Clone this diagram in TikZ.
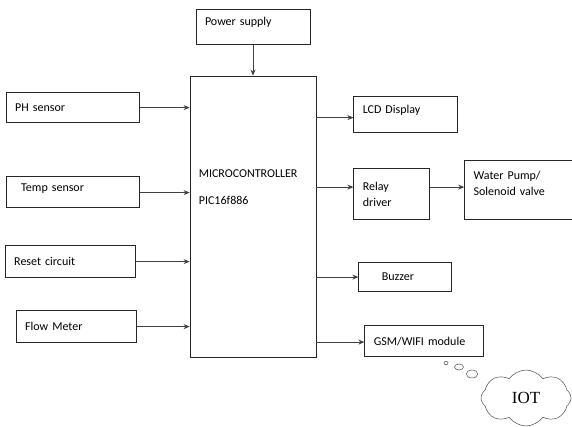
\documentclass[tikz,border=0pt]{standalone}
\usepackage{fontspec}
\setmainfont{Carlito}
\newfontfamily\iotfont{Liberation Serif}
\usepackage{tikz}
\usetikzlibrary{shapes.geometric, shapes.symbols, arrows.meta, positioning}
\tikzstyle{block} = [rectangle, draw=black!85, line width=0.8pt, inner xsep=9pt, inner ysep=2pt, align=left, font=\fontsize{12}{16}\selectfont]
\tikzstyle{arrow} = [line width=0.8pt, draw=black!75, ->, >={Stealth[length=6pt,width=5pt]}]
\tikzstyle{bubble} = [ellipse, draw=black!70, line width=0.5pt, inner sep=0pt]

\begin{document}
\begin{tikzpicture}[x=1pt, y=-1pt]
    \useasboundingbox (0,0) rectangle (572,426);
    \node (mcu) [block, minimum width=126pt, minimum height=281pt] at (253,216.5) {};
    \node (mcu_text) [below right=94pt and 9pt of mcu.north west, inner sep=0pt, align=left, font=\fontsize{12}{16}\selectfont] {MICROCONTROLLER\\[11pt] PIC16f886};
    \node (power) [block, above=31pt of mcu.north, text width=96pt, minimum height=35pt, text depth=10pt] {Power supply};
    \node (ph) [block, left=50pt of mcu.north west, yshift=-32pt, text width=115pt, minimum height=30pt] {PH sensor};
    \node (temp) [block, left=50pt of mcu.north west, yshift=-116pt, text width=115pt, minimum height=31pt, text depth=7pt] {\hspace{6pt}Temp sensor};
    \node (reset) [block, left=54pt of mcu.north west, yshift=-186pt, text width=112pt, minimum height=32pt] {Reset circuit};
    \node (flow) [block, left=53pt of mcu.north west, yshift=-251pt, text width=102pt, minimum height=32pt] {Flow Meter};
    \node (lcd) [block, right=37pt of mcu.north east, yshift=-39pt, text width=86pt, minimum height=36pt, text depth=10pt] {LCD Display};
    \node (relay) [block, right=37pt of mcu.north east, yshift=-118.5pt, text width=58pt, minimum height=51pt] {Relay\\ driver};
    \node (pump) [block, right=34pt of relay, yshift=4pt, text width=90pt, minimum height=59pt] {Water Pump/\\ Solenoid valve\\[-2pt]\mbox{}};
    \node (buzzer) [block, right=42pt of mcu.north east, yshift=-201.5pt, text width=75pt, minimum height=29pt] {\hspace{14pt}Buzzer};
    \node (gsm) [block, right=48pt of mcu.north east, yshift=-265.5pt, text width=101pt, minimum height=31pt] {GSM/WIFI module};
    \node (bubble_a) [bubble, minimum width=4pt, minimum height=3.5pt] at (446,363) {};
    \node (bubble_b) [bubble, minimum width=9pt, minimum height=6pt] at (459,367) {};
    \node (bubble_c) [bubble, minimum width=11.5pt, minimum height=8pt] at (472,374) {};
    \node (iot) [cloud, cloud puffs=8, cloud puff arc=110, aspect=1.7, draw=black!70, line width=0.5pt, minimum width=90pt, minimum height=56pt, font=\iotfont\fontsize{17}{17}\selectfont] at (526,398) {IOT};
    \draw [arrow] (power) -- (mcu);
    \draw [arrow] (ph.east) -- (ph.east -| mcu.west);
    \draw [arrow] ([yshift=-1pt]temp.east) -- ([yshift=-1pt]temp.east -| mcu.west);
    \draw [arrow] (reset.east) -- (reset.east -| mcu.west);
    \draw [arrow] (flow.east) -- (flow.east -| mcu.west);
    \draw [arrow] ([yshift=-3pt]mcu.east |- lcd.west) -- ([yshift=-3pt]lcd.west);
    \draw [arrow] ([yshift=7pt]mcu.east |- relay.west) -- ([yshift=7pt]relay.west);
    \draw [arrow] ([yshift=7pt]relay.east) -- ([yshift=7pt]relay.east -| pump.west);
    \draw [arrow] (mcu.east |- buzzer.west) -- (buzzer.west);
    \draw [arrow] ([yshift=-1pt]mcu.east |- gsm.west) -- ([yshift=-1pt]gsm.west);
\end{tikzpicture}
\end{document}
